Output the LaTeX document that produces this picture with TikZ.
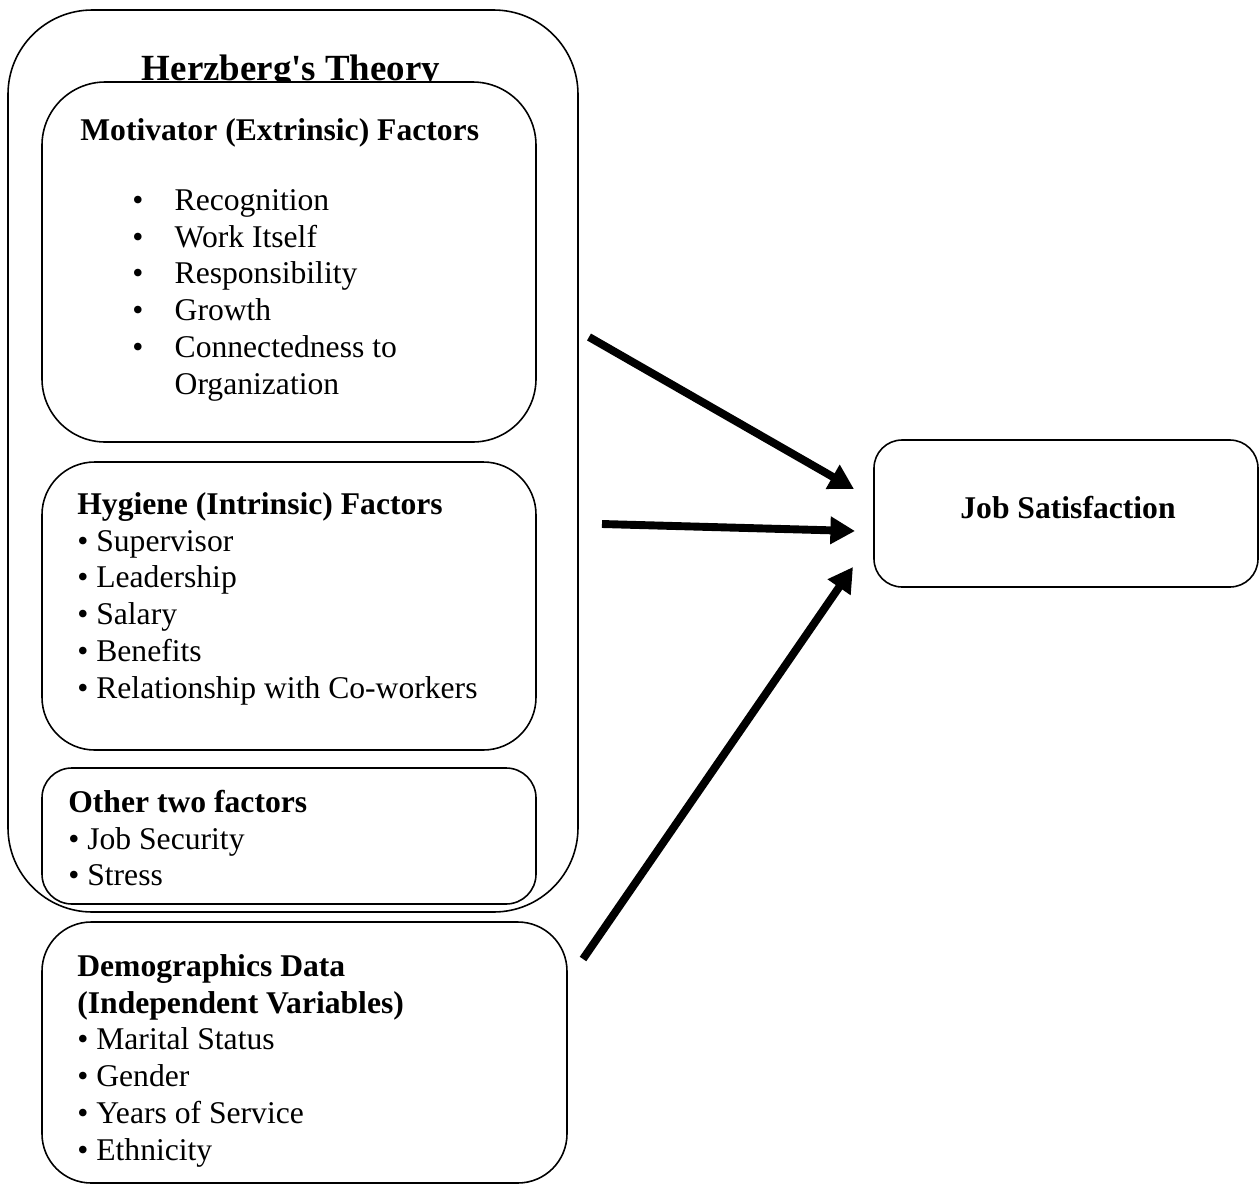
\documentclass[tikz,border=0pt]{standalone}
\usepackage{fontspec}
\setmainfont{Liberation Serif}
\usepackage{tikz}
\usetikzlibrary{arrows.meta,
                fit,
                positioning}
\newcommand{\bodysize}{\fontsize{18}{21}\selectfont}
\newcommand{\titlesize}{\fontsize{21}{25}\selectfont}

\begin{document}
\begin{tikzpicture}[
			x=0.02cm, y=-0.02cm,
			box/.style = {draw, line width=0.9pt, inner sep=0pt},
			txt/.style = {font=\bodysize, align=left, inner sep=0pt, anchor=north west},
			arr/.style = {line width=4.5pt, -{Triangle[length=14pt, width=15pt]}},
			]
			\useasboundingbox (0,0) rectangle (1259,1184);
			% theory frame
			\node[box, rounded corners=48pt, fit={(8,10) (578,912)}] (theory) {};
			\node[font=\titlesize\bfseries, anchor=base, inner sep=0pt] (theorytitle) at (291,80) {Herzberg\textquotesingle s Theory};
			% factor boxes
			\node[box, fill=white, rounded corners=36pt, fit={(42,82) (536,442)}] (motiv) {};
			\node[box, rounded corners=30pt, fit={(42,462) (536,750)}] (hyg) {};
			\node[box, rounded corners=17pt, fit={(42,768) (536,904)}] (other) {};
			\node[box, rounded corners=28pt, fit={(42,922) (567,1183)}] (demo) {};
			\node[box, rounded corners=16pt, fit={(874,440) (1258,587)}] (job) {};
			% texts
			\node[txt, font=\bodysize\bfseries] (motivhead) at (80,114) {\strut Motivator (Extrinsic) Factors};
			\node[txt] (motivlist) at (132,184) {\begin{tabular}[t]{@{}l@{\hspace{17.8pt}}l@{}}
				\textbullet & Recognition\\
				\textbullet & Work Itself\\
				\textbullet & Responsibility\\
				\textbullet & Growth\\
				\textbullet & Connectedness to\\
				            & Organization
				\end{tabular}};
			\node[txt] (hyglist) at (77,488) {\strut\textbf{Hygiene (Intrinsic) Factors}\\
				\textbullet{} Supervisor\\
				\textbullet{} Leadership\\
				\textbullet{} Salary\\
				\textbullet{} Benefits\\
				\textbullet{} Relationship with Co-workers};
			\node[txt] (otherlist) at (68,786) {\strut\textbf{Other two factors}\\
				\textbullet{} Job Security\\
				\textbullet{} Stress};
			\node[txt] (demolist) at (77,950) {\strut\textbf{Demographics Data}\\
				\textbf{(Independent Variables)}\\
				\textbullet{} Marital Status\\
				\textbullet{} Gender\\
				\textbullet{} Years of Service\\
				\textbullet{} Ethnicity};
			\node[font=\bodysize\bfseries, anchor=base, inner sep=0pt] (jobtext) at (1068,518) {Job Satisfaction};
			% arrow ends
			\coordinate (m1) at (589,337);
			\coordinate (m2) at (854,489);
			\coordinate (h1) at (602,524);
			\coordinate (h2) at (855,531);
			\coordinate (d1) at (583,959);
			\coordinate (d2) at (853,567);
			% edges
			\draw[arr] (m1) -- (m2);
			\draw[arr] (h1) -- (h2);
			\draw[arr] (d1) -- (d2);
		\end{tikzpicture}
\end{document}
